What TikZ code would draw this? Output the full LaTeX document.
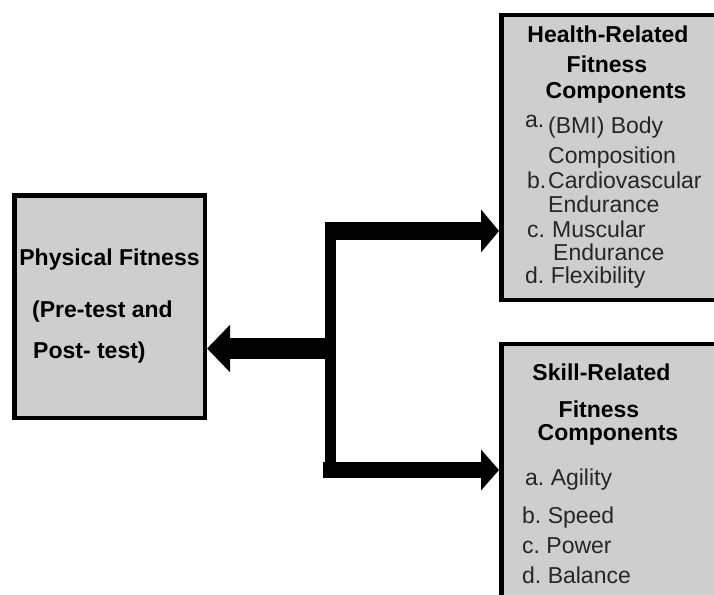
\documentclass[tikz,border=0pt]{standalone}
\usepackage{fontspec}
\setmainfont{Liberation Sans}
\usetikzlibrary{arrows.meta,shadows,calc}
\definecolor{boxgray}{RGB}{206,206,206}
\tikzset{
  box/.style={draw=black, line width=4.5pt, fill=boxgray, inner sep=0pt,
    drop shadow={shadow xshift=2.5pt, shadow yshift=-2.5pt, fill=black!50, opacity=.55}},
  hd/.style={font=\fontsize{23}{27}\selectfont\bfseries, anchor=base, inner sep=0pt},
  itm/.style={font=\fontsize{23}{27}\selectfont, anchor=base west, inner sep=0pt, text=black!85},
  bold left/.style={font=\fontsize{23}{27}\selectfont\bfseries, anchor=base west, inner sep=0pt},
  fat/.style={line width=#1}
}
\begin{document}
\begin{tikzpicture}[x=1pt,y=-1pt]
\useasboundingbox (0,0) rectangle (714,594);
\clip (0,0) rectangle (714,594);
\fill[white] (0,0) rectangle (714,594);
% boxes
\node[box, minimum width=190.5pt, minimum height=222.5pt] (pf) at (109.5,306.5) {};
\node[box, minimum width=226.5pt, minimum height=284.5pt] (hr) at (614.5,157.5) {};
\node[box, minimum width=226.5pt, minimum height=275.75pt] (sr) at (614.5,482) {};
% left box text
\node[hd] (pf1) at (109.5,265) {Physical Fitness};
\node[bold left] (pf2) at (32,317) {(Pre-test and};
\node[bold left] (pf3) at (33,358) {Post- test)};
% health box text
\node[hd] (h1) at (608,43) {Health-Related};
\node[hd] (h2) at (607,73) {Fitness};
\node[hd] (h3) at (616,98) {Components};
\node[itm] (ha) at (525,127) {a.};
\node[itm] (ha2) at (548,133) {(BMI) Body};
\node[itm] (ha3) at (548,163) {Composition};
\node[itm] (hb) at (527,188) {b.};
\node[itm] (hb2) at (548,188) {Cardiovascular};
\node[itm] (hb3) at (548,212) {Endurance};
\node[itm] (hc) at (527,237) {c.};
\node[itm] (hc1) at (552,237) {Muscular};
\node[itm] (hc2) at (553,260) {Endurance};
\node[itm] (hd1) at (525,283) {d.\ Flexibility};
% skill box text
\node[hd] (s1) at (601.5,380) {Skill-Related};
\node[hd] (s2) at (599,417) {Fitness};
\node[hd] (s3) at (608,440) {Components};
\node[itm] (sa) at (525,485) {a.\ Agility};
\node[itm] (sb) at (522,523) {b.\ Speed};
\node[itm] (sc) at (522,553) {c.\ Power};
\node[itm] (sd) at (522,583) {d.\ Balance};
% connectors
\coordinate (vt) at (330.5,222);
\coordinate (vb) at (330.5,478);
\coordinate (jt) at (325,231);
\coordinate (jb) at (323,470);
\coordinate (jm) at (330,348.5);
\draw[fat=11pt] (vt) -- (vb);
\draw[fat=18pt, -{Triangle[length=18pt,width=42pt]}] (jt) -- (jt -| hr.west);
\draw[fat=16pt, -{Triangle[length=18pt,width=40pt]}] (jb) -- (jb -| sr.west);
\draw[fat=21pt, -{Triangle[length=23pt,width=46pt]}] (jm) -- (jm -| pf.east);
\end{tikzpicture}
\end{document}
